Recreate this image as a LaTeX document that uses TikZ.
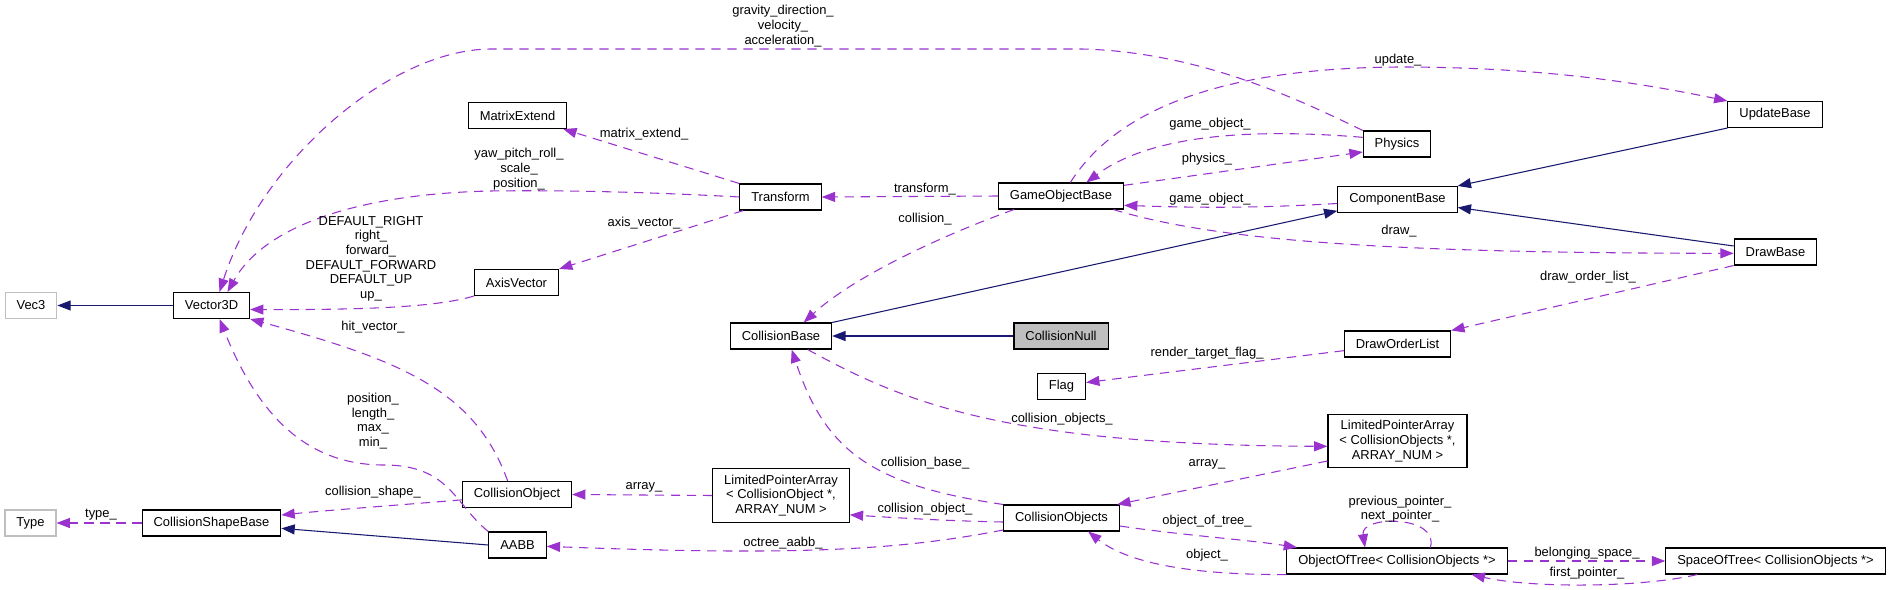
\documentclass[tikz,border=0pt]{standalone}
\usepackage{fontspec}
\setmainfont{Liberation Sans}
\usetikzlibrary{arrows.meta}
\definecolor{orchid}{HTML}{9A32CD}
\definecolor{navy}{HTML}{191970}

\begin{document}
\begin{tikzpicture}[
  x=0.75pt, y=-0.75pt,
  font=\fontsize{9.7}{11}\selectfont,
  cls/.style={draw,line width=0.8pt,fill=white,minimum height=19.5pt,inner xsep=8.6pt,inner ysep=4.5pt,align=center},
  ext/.style={cls,draw=black!25},
  cur/.style={cls,fill=black!25},
  use/.style={draw=orchid,line width=0.8pt,dash pattern=on 7pt off 5pt,-{Triangle[length=10pt,width=7.5pt]}},
  inh/.style={draw=navy,line width=0.8pt,-{Triangle[length=10pt,width=7.5pt]}},
  lbl/.style={inner sep=0pt,align=center}
]
\useasboundingbox (0,0) rectangle (1891,589);

% ---- classes ----
\node[ext] (vec3)  at (31,305.5)    {Vec3};
\node[cls] (vecd)  at (211.5,305.5) {Vector3D};
\node[ext] (type)  at (30.5,523)    {Type};
\node[cls] (csb)   at (211.5,523)   {CollisionShapeBase};
\node[cls] (mext)  at (517.5,115.5) {MatrixExtend};
\node[cls] (axv)   at (516.5,282.5) {AxisVector};
\node[cls] (cobj)  at (517,494.5)   {CollisionObject};
\node[cls] (aabb)  at (517.5,545)   {AABB};
\node[cls] (tf)    at (780.5,197)   {Transform};
\node[cls] (cbase) at (781,336)     {CollisionBase};
\node[cls] (lpa1)  at (781,495.5)   {LimitedPointerArray\\< CollisionObject *,\\ ARRAY\_NUM >};
\node[cls] (gob)   at (1061,196)    {GameObjectBase};
\node[cur] (cnull) at (1061,336)    {CollisionNull};
\node[cls] (flag)  at (1061.5,386.5){Flag};
\node[cls] (cobjs) at (1061.5,518)  {CollisionObjects};
\node[cls] (phys)  at (1397,144)    {Physics};
\node[cls] (comp)  at (1397.5,199.5){ComponentBase};
\node[cls] (dol)   at (1397.5,344)  {DrawOrderList};
\node[cls] (lpa2)  at (1397.5,441)  {LimitedPointerArray\\< CollisionObjects *,\\ ARRAY\_NUM >};
\node[cls] (oot)   at (1397,561)    {ObjectOfTree< CollisionObjects *>};
\node[cls] (upd)   at (1775,114.5)  {UpdateBase};
\node[cls] (drawb) at (1775.5,252)  {DrawBase};
\node[cls] (sot)   at (1775.5,561)  {SpaceOfTree< CollisionObjects *>};

% ---- inheritance ----
\draw[inh] (vecd.west) -- (vec3.east);
\draw[inh] (aabb.west) -- ([yshift=-4pt]csb.east);
\draw[inh] (cnull.west) -- (cbase.east);
\draw[inh] (cbase.north east) -- ([yshift=-8.5pt]comp.west);
\draw[inh] (upd.south west) -- (comp.north east);
\draw[inh] ([yshift=4.5pt]drawb.west) -- ([yshift=-6pt]comp.east);

% ---- usage ----
\draw[use] (phys.north west) .. controls (1300,100) and (1200,52) .. (1082,49)
  -- (490,49) .. controls (390,50) and (262,160) .. ([xshift=6pt]vecd.north);
\draw[use] (tf.west) .. controls (650,192) and (560,190) .. (490,191)
  .. controls (360,194) and (265,225) .. ([xshift=12pt]vecd.north);
\draw[use] (axv.south west) .. controls (440,306) and (380,310) .. ([yshift=-3pt]vecd.east);
\draw[use] ([xshift=-7pt]cobj.north) .. controls (475,390) and (400,360) .. (vecd.south east);
\draw[use] (aabb.north west) .. controls (455,505) and (450,465) .. (384,465)
  .. controls (310,465) and (260,420) .. ([xshift=6pt]vecd.south);
\draw[use] ([yshift=-4pt]cobj.west) .. controls (400,505) and (330,510) .. ([yshift=6pt]csb.east);
\draw[use] (csb.west) -- (type.east);
\draw[use] (tf.north west) -- ([xshift=-3pt]mext.south east);
\draw[use] ([xshift=3pt]tf.south west) -- (axv.north east);
\draw[use] (gob.west) -- (tf.east);
\draw[use] ([xshift=12pt]gob.south west) .. controls (930,240) and (850,280) .. ([xshift=17pt]cbase.north);
\draw[use] ([xshift=7pt]gob.north) .. controls (1110,120) and (1200,68) .. (1400,67)
  .. controls (1550,67) and (1650,85) .. (upd.north west);
\draw[use] ([yshift=5pt]phys.west) .. controls (1250,128) and (1150,135) .. ([xshift=19pt]gob.north);
\draw[use] ([yshift=8pt]gob.east) -- ([yshift=-6pt]phys.west);
\draw[use] ([yshift=-3pt]comp.west) .. controls (1260,208) and (1200,208) .. ([yshift=-7pt]gob.east);
\draw[use] ([xshift=-8pt]gob.south east) .. controls (1220,242) and (1400,253) .. ([yshift=-1pt]drawb.west);
\draw[use] (drawb.south west) -- (dol.north east);
\draw[use] ([yshift=-5pt]dol.west) -- ([yshift=3pt]flag.east);
\draw[use] ([xshift=20pt]cbase.south) .. controls (900,400) and (1000,445) .. ([yshift=-4pt]lpa2.west);
\draw[use] ([yshift=-15pt]lpa2.west) -- ([xshift=-2pt]cobjs.north east);
\draw[use] (cobjs.north west) .. controls (870,485) and (825,450) .. ([xshift=8pt]cbase.south);
\draw[use] ([yshift=-3pt]cobjs.west) .. controls (950,521) and (900,518) .. ([yshift=-14.5pt]lpa1.east);
\draw[use] (lpa1.west) -- (cobj.east);
\draw[use] ([yshift=-9pt]cobjs.west) .. controls (900,550) and (800,556) .. ([yshift=-1pt]aabb.east);
\draw[use] ([yshift=-6pt]cobjs.east) .. controls (1180,535) and (1250,540) .. ([xshift=8pt]oot.north west);
\draw[use] (oot.south west) .. controls (1200,575) and (1130,565) .. ([xshift=20pt]cobjs.south);
\draw[use] ([xshift=25pt]oot.north) .. controls (1440,515) and (1360,515) .. ([xshift=-24pt]oot.north);
\draw[use] (oot.east) -- (sot.west);
\draw[use] ([xshift=24pt]sot.south west) .. controls (1640,588) and (1530,588) .. ([xshift=-27pt]oot.south east);

% ---- member labels ----
\node[lbl] (lgrav) at (783,26)    {gravity\_direction\_\\velocity\_\\acceleration\_};
\node[lbl] (lypr)  at (519,169)   {yaw\_pitch\_roll\_\\scale\_\\position\_};
\node[lbl] (ldef)  at (371,258.5) {DEFAULT\_RIGHT\\right\_\\forward\_\\DEFAULT\_FORWARD\\DEFAULT\_UP\\up\_};
\node[lbl] (lhit)  at (373,327)   {hit\_vector\_};
\node[lbl] (lpos)  at (373,421)   {position\_\\length\_\\max\_\\min\_};
\node[lbl] (lcsh)  at (373,492)   {collision\_shape\_};
\node[lbl] (ltype) at (101,515)   {type\_};
\node[lbl] (lmat)  at (644,134)   {matrix\_extend\_};
\node[lbl] (laxv)  at (644,223)   {axis\_vector\_};
\node[lbl] (larr1) at (644,487)   {array\_};
\node[lbl] (ltf)   at (925,189)   {transform\_};
\node[lbl] (lcol)  at (925,219)   {collision\_};
\node[lbl] (lcb)   at (925,463)   {collision\_base\_};
\node[lbl] (lco)   at (925,509)   {collision\_object\_};
\node[lbl] (loct)  at (783,543)   {octree\_aabb\_};
\node[lbl] (lgo1)  at (1210,124)  {game\_object\_};
\node[lbl] (lphy)  at (1207,159)  {physics\_};
\node[lbl] (lgo2)  at (1210,199)  {game\_object\_};
\node[lbl] (lrtf)  at (1207,353)  {render\_target\_flag\_};
\node[lbl] (lcos)  at (1062,419)  {collision\_objects\_};
\node[lbl] (larr2) at (1207,464)  {array\_};
\node[lbl] (lobt)  at (1207,521)  {object\_of\_tree\_};
\node[lbl] (lobj)  at (1207,555)  {object\_};
\node[lbl] (lupd)  at (1398,60)   {update\_};
\node[lbl] (ldraw) at (1399,231)  {draw\_};
\node[lbl] (lptr)  at (1400,509)  {previous\_pointer\_\\next\_pointer\_};
\node[lbl] (ldol)  at (1588,277)  {draw\_order\_list\_};
\node[lbl] (lbel)  at (1587,553)  {belonging\_space\_};
\node[lbl] (lfp)   at (1587,573)  {first\_pointer\_};
\end{tikzpicture}
\end{document}
